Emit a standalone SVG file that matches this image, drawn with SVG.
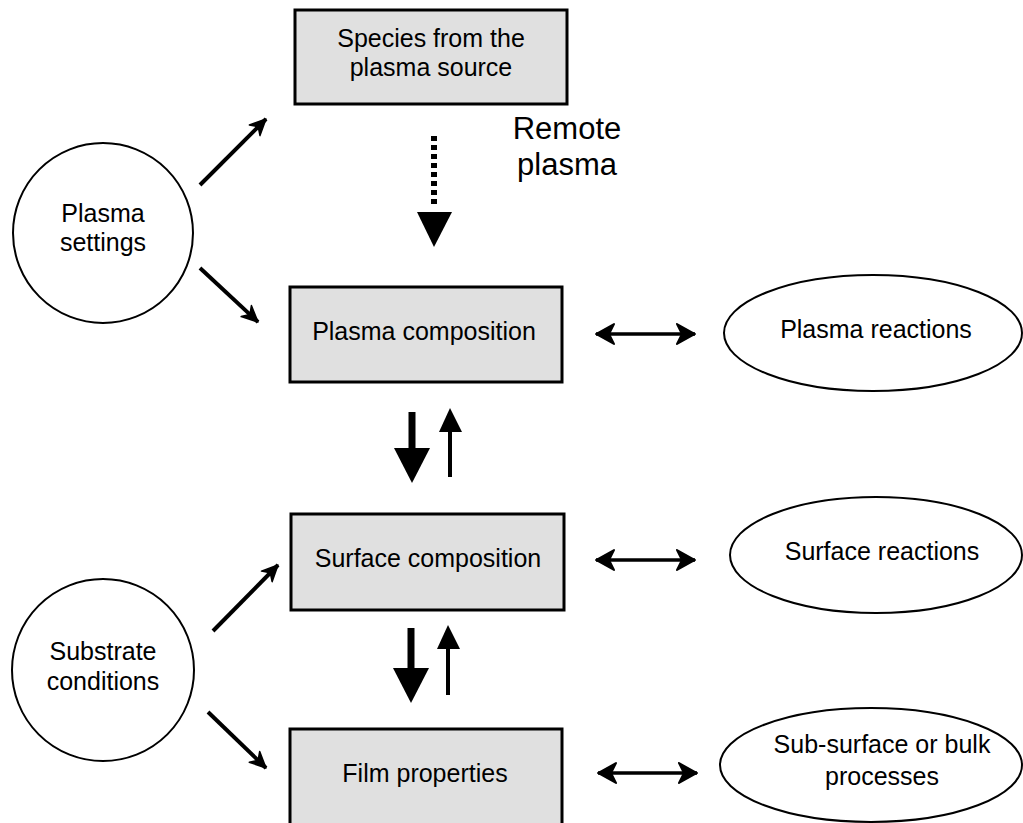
<svg xmlns="http://www.w3.org/2000/svg" width="1023" height="823" viewBox="0 0 1023 823">
  <style>
    .box { fill: #e0e0e0; stroke: #000; stroke-width: 3; }
    .ring { fill: #fff; stroke: #000; stroke-width: 2; }
    .lbl { font-family: "Liberation Sans", Arial, sans-serif; font-size: 25px; fill: #000; text-anchor: middle; }
    .big { font-size: 31px; }
    .diag { stroke: #000; stroke-width: 4; fill: none; marker-end: url(#barb); }
    .dbl { stroke: #000; stroke-width: 3.5; fill: none; marker-start: url(#chev); marker-end: url(#chev); }
  </style>
  <defs>
    <!-- notched head for the slanted arrows -->
    <marker id="barb" viewBox="0 0 20 20" refX="18" refY="10" markerWidth="20" markerHeight="20" markerUnits="userSpaceOnUse" orient="auto">
      <path d="M2,2.5 L18,10 L2,17.5 L7,10 z" fill="#000" stroke="#000" stroke-width="1.5" stroke-linejoin="round"/>
    </marker>
    <!-- bold chevron head for the two-way arrows -->
    <marker id="chev" viewBox="0 0 24 24" refX="22" refY="12" markerWidth="24" markerHeight="24" markerUnits="userSpaceOnUse" orient="auto-start-reverse">
      <path d="M4,2 L22,12 L4,22 L9,12 z" fill="#000" stroke="#000" stroke-width="2" stroke-linejoin="round"/>
    </marker>
  </defs>

  <!-- boxes -->
  <g id="species">
    <rect class="box" x="295" y="10" width="272" height="94"/>
    <text class="lbl" x="431" y="47">Species from the</text>
    <text class="lbl" x="431" y="76">plasma source</text>
  </g>
  <g id="plasma-composition">
    <rect class="box" x="290" y="287" width="272" height="95"/>
    <text class="lbl" x="424" y="340">Plasma composition</text>
  </g>
  <g id="surface-composition">
    <rect class="box" x="291" y="514" width="273" height="96"/>
    <text class="lbl" x="428" y="567">Surface composition</text>
  </g>
  <g id="film-properties">
    <rect class="box" x="290" y="729" width="272" height="100"/>
    <text class="lbl" x="425" y="782">Film properties</text>
  </g>

  <!-- circles -->
  <g id="plasma-settings">
    <circle class="ring" cx="103" cy="233" r="90"/>
    <text class="lbl" x="103" y="222">Plasma</text>
    <text class="lbl" x="103" y="251">settings</text>
  </g>
  <g id="substrate-conditions">
    <circle class="ring" cx="103" cy="670" r="91"/>
    <text class="lbl" x="103" y="660">Substrate</text>
    <text class="lbl" x="103" y="690">conditions</text>
  </g>

  <!-- ellipses -->
  <g id="plasma-reactions">
    <ellipse class="ring" cx="873" cy="333" rx="149" ry="58"/>
    <text class="lbl" x="876" y="338">Plasma reactions</text>
  </g>
  <g id="surface-reactions">
    <ellipse class="ring" cx="876" cy="555" rx="146" ry="58"/>
    <text class="lbl" x="882" y="560">Surface reactions</text>
  </g>
  <g id="bulk-processes">
    <ellipse class="ring" cx="871" cy="765" rx="151" ry="57"/>
    <text class="lbl" x="882" y="753">Sub-surface or bulk</text>
    <text class="lbl" x="882" y="785">processes</text>
  </g>

  <!-- free label -->
  <g id="remote-plasma">
    <text class="lbl big" x="567" y="139">Remote</text>
    <text class="lbl big" x="567" y="175">plasma</text>
  </g>

  <!-- connectors -->
  <g id="connectors">
    <!-- plasma settings -->
    <line class="diag" x1="200" y1="185" x2="266" y2="119"/>
    <line class="diag" x1="200" y1="268" x2="258" y2="322"/>
    <!-- substrate conditions -->
    <line class="diag" x1="213" y1="631" x2="278" y2="565"/>
    <line class="diag" x1="208" y1="712" x2="266" y2="768"/>

    <!-- remote plasma flow -->
    <line x1="434" y1="136" x2="434" y2="208" stroke="#000" stroke-width="6" stroke-dasharray="5 4"/>
    <path d="M417,212 L452,212 L434,247 z" fill="#000"/>

    <!-- plasma composition <-> surface composition -->
    <line x1="412" y1="412" x2="412" y2="450" stroke="#000" stroke-width="7"/>
    <path d="M394,448 L430,448 L412,483 z" fill="#000"/>
    <line x1="450" y1="477" x2="450" y2="430" stroke="#000" stroke-width="4"/>
    <path d="M439,432 L462,432 L450,408 z" fill="#000"/>

    <!-- surface composition <-> film properties -->
    <line x1="411" y1="628" x2="411" y2="670" stroke="#000" stroke-width="7"/>
    <path d="M393,668 L429,668 L411,703 z" fill="#000"/>
    <line x1="448" y1="695" x2="448" y2="647" stroke="#000" stroke-width="4"/>
    <path d="M437,649 L460,649 L448,625 z" fill="#000"/>

    <!-- two-way links to the processes -->
    <line class="dbl" x1="596" y1="334" x2="695" y2="334"/>
    <line class="dbl" x1="596" y1="560" x2="695" y2="560"/>
    <line class="dbl" x1="598" y1="773" x2="697" y2="773"/>
  </g>
</svg>
